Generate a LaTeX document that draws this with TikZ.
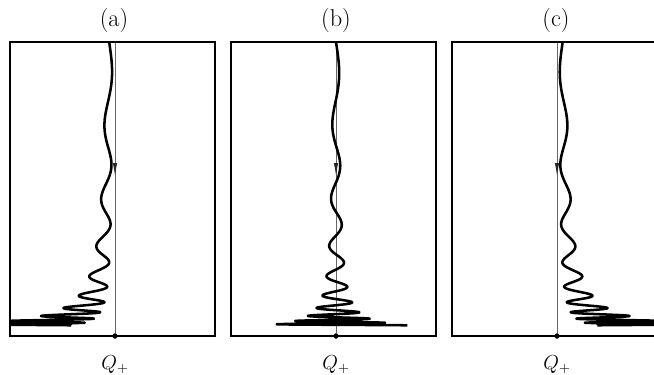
\documentclass[tikz,border=0pt]{standalone}
\usetikzlibrary{arrows.meta,positioning,decorations.markings}

\begin{document}
\begin{tikzpicture}[x=0.025cm, y=-0.025cm,
    frame/.style={line width=1pt, black},
    axis/.style={line width=0.6pt, black!60,
      postaction={decorate, decoration={markings,
        mark=at position 0.46 with {\arrow[black!85]{Latex[length=0.32cm, width=0.11cm]}}}}},
    traj/.style={line width=1.8pt, line join=round, black},
    dot/.style={circle, fill=black, inner sep=0pt, minimum size=0.13cm},
    lbl/.style={inner sep=0pt, font=\Large},
    ttl/.style={inner sep=0pt, font=\LARGE},
    declare function={uu(\t)=288*exp(-0.071*\t); aa(\t)=1+2*exp(0.0613*\t);}
  ]
  \useasboundingbox (0,0) rectangle (654,375);

  % (a) drifting to the left
  \coordinate (sa) at (115,42);
  \node[dot] (qa) at (115,336) {};
  \draw[axis] (sa) -- (qa);
  \begin{scope}
    \clip (10,42) rectangle (215,336);
    \draw[traj] plot[domain=0:58.1, samples=1500]
      ({115-1-1.6*aa(\x)+aa(\x)*sin(deg(\x))}, {330-uu(\x)});
  \end{scope}
  \draw[frame] (10,42) rectangle (215,336);
  \node[dot] at (qa) {};
  \node[ttl] (ta) at (114,20) {(a)};
  \node[lbl, below=0.4cm of qa] (la) {$Q_+$};

  % (b) centred
  \coordinate (sb) at (336,42);
  \node[dot] (qb) at (336,336) {};
  \draw[axis] (sb) -- (qb);
  \begin{scope}
    \clip (231,42) rectangle (436,336);
    \draw[traj] plot[domain=0:58.1, samples=1500]
      ({336+aa(\x)*sin(deg(\x))}, {330-uu(\x)});
  \end{scope}
  \draw[frame] (231,42) rectangle (436,336);
  \node[dot] at (qb) {};
  \node[ttl] (tb) at (336,20) {(b)};
  \node[lbl, below=0.4cm of qb] (lb) {$Q_+$};

  % (c) drifting to the right
  \coordinate (sc) at (557,42);
  \node[dot] (qc) at (557,336) {};
  \draw[axis] (sc) -- (qc);
  \begin{scope}
    \clip (452,42) rectangle (657,336);
    \draw[traj] plot[domain=0:58.1, samples=1500]
      ({557+1+1.55*aa(\x)-aa(\x)*sin(deg(\x))}, {330-uu(\x)});
  \end{scope}
  \draw[frame] (452,42) rectangle (657,336);
  \node[dot] at (qc) {};
  \node[ttl] (tc) at (556,20) {(c)};
  \node[lbl, below=0.4cm of qc] (lc) {$Q_+$};
\end{tikzpicture}
\end{document}
